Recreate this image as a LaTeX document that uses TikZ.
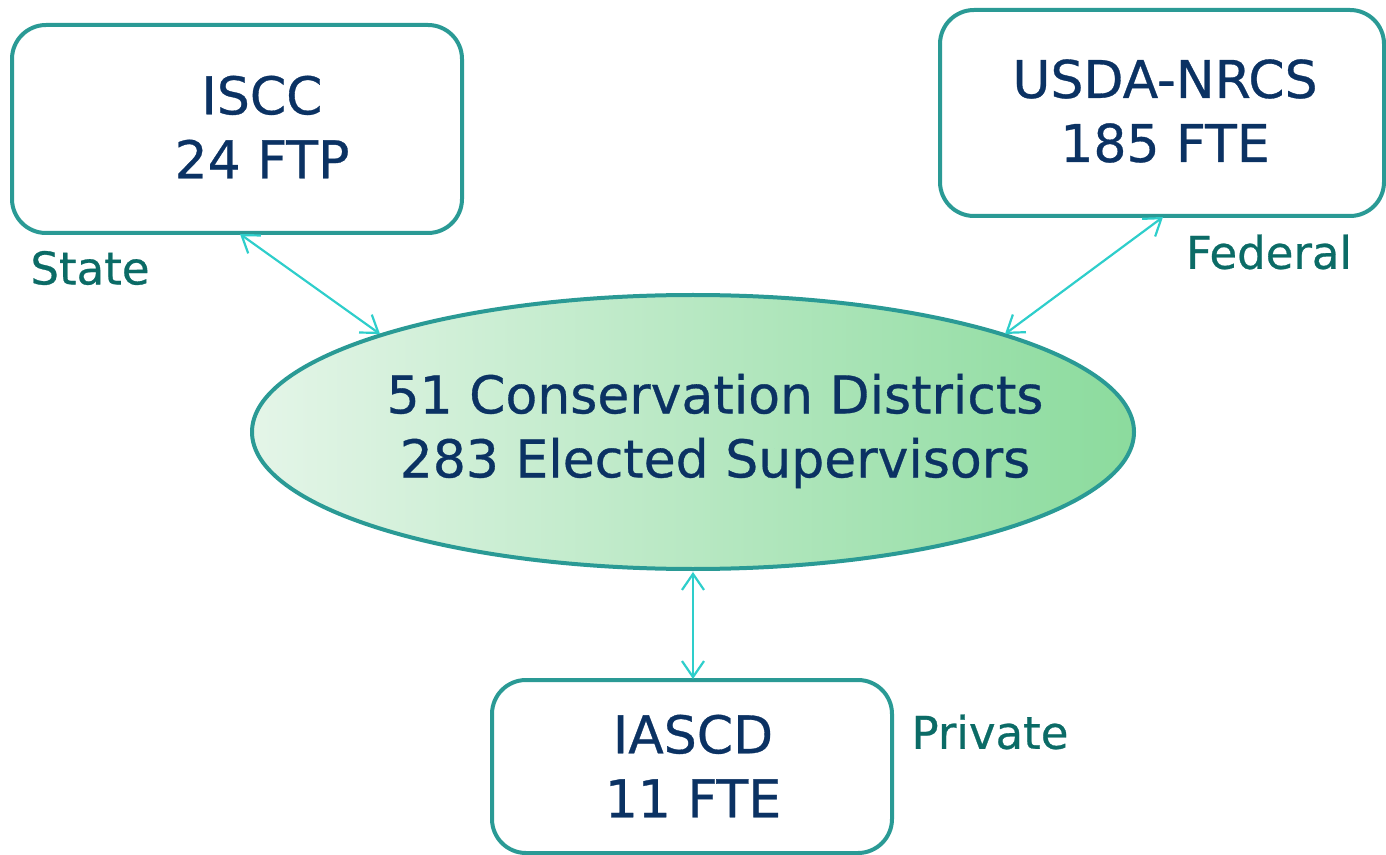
\documentclass[tikz,border=0pt]{standalone}
\usepackage{fontspec}
\setmainfont{DejaVu Sans}
\newfontfamily\diagfont[FakeBold=0.6]{DejaVu Sans}
\usetikzlibrary{shapes.geometric,arrows.meta}
\definecolor{boxline}{HTML}{2A9A95}
\definecolor{navy}{HTML}{0B3263}
\definecolor{lbl}{HTML}{0B6B66}
\definecolor{arr}{HTML}{2ECECB}
\definecolor{gl}{HTML}{E4F5E8}
\definecolor{gr}{HTML}{8BDB9D}
\tikzset{
  orgbox/.style={draw=boxline, line width=2pt, rounded corners=17pt, fill=white},
  maintext/.style={text=navy, font=\diagfont\fontsize{26}{32}\selectfont, align=center},
  sidelabel/.style={text=lbl, font=\diagfont\fontsize{22.5}{26}\selectfont},
  link/.style={draw=arr, line width=1.1pt, {Straight Barb[length=8pt,width=11pt]}-{Straight Barb[length=8pt,width=11pt]}},
}
\begin{document}
\begin{tikzpicture}[x=0.5pt,y=-0.5pt]
\useasboundingbox (0,0) rectangle (1386,855);
% boxes
\draw[orgbox] (12,25) rectangle (462,233);
\coordinate (isccB) at (240,234);
\draw[orgbox] (940,10) rectangle (1384,216);
\coordinate (usdaB) at (1163,217);
\draw[orgbox] (492,680) rectangle (892,853);
\coordinate (iascdT) at (693,679);
% ellipse
\node[ellipse, draw=boxline, line width=2pt, left color=gl, right color=gr,
      minimum width=441pt, minimum height=137pt, inner sep=0pt, outer sep=0pt] (cd) at (693,432) {};
\coordinate (cdTL) at (380,334);
\coordinate (cdTR) at (1005,334);
\coordinate (cdB) at (693,572);
% texts
\node[maintext] (iscc) at (262,127) {ISCC\\24 FTP};
\node[maintext] (usda) at (1165,111) {USDA-NRCS\\185 FTE};
\node[maintext] (iascd) at (693,766) {IASCD\\11 FTE};
\node[maintext] (cdtext) at (715,431) {51 Conservation Districts\\283 Elected Supervisors};
\node[sidelabel] (state) at (90,268) {State};
\node[sidelabel] (federal) at (1269,252) {Federal};
\node[sidelabel] (private) at (990,732) {Private};
% arrows
\draw[link] (isccB) -- (cdTL);
\draw[link] (usdaB) -- (cdTR);
\draw[link] (cdB) -- (iascdT);
\end{tikzpicture}
\end{document}
